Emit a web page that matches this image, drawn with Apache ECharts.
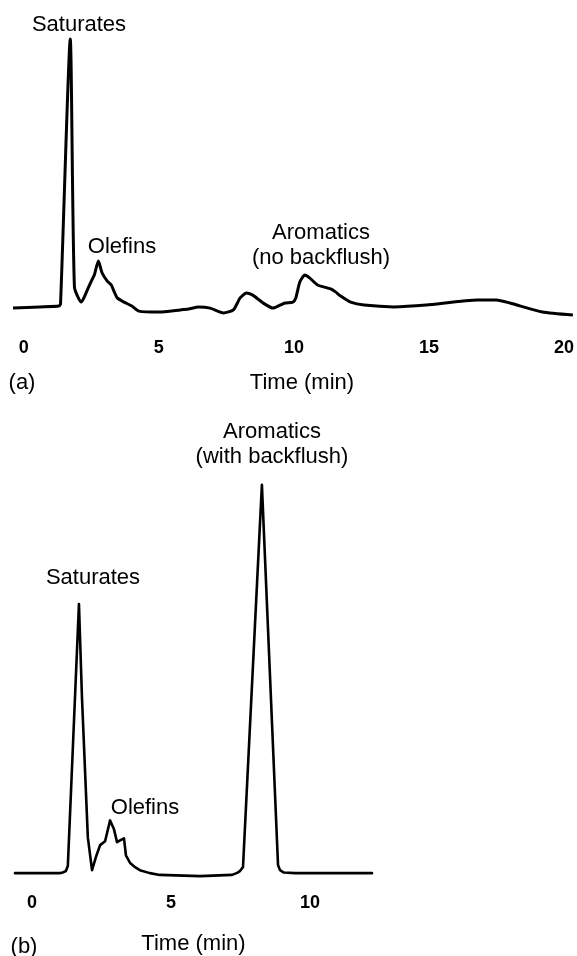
<!DOCTYPE html>
<html>
<head>
<meta charset="utf-8">
<script src="https://cdn.jsdelivr.net/npm/echarts@6/dist/echarts.min.js"></script>
<style>
html,body{margin:0;padding:0;background:#fff;}
#chart{width:577px;height:956px;}
</style>
</head>
<body>
<div id="chart"></div>
<script>
// Panel (a): no backflush — time (min) and detector signal (arbitrary units)
const timeA = [-0.40, 0.59, 1.30, 1.36, 1.72, 1.875, 2.13, 2.35, 2.50, 2.61, 2.76, 2.90, 3.09, 3.24, 3.35, 3.46, 3.71, 4.00, 4.26, 5.00, 5.80, 6.10, 6.47, 6.90, 7.39, 7.76, 8.01, 8.24, 8.53, 8.86, 9.23, 9.49, 9.67, 9.96, 10.07, 10.22, 10.40, 10.59, 10.88, 11.36, 11.54, 11.73, 12.10, 12.60, 13.70, 14.90, 16.80, 17.50, 18.00, 19.20, 20.33];
const signalA = [1.3, 1.7, 2.0, 2.7, 91, 8.3, 3.3, 7.3, 10.3, 12.3, 17, 13, 10.3, 9, 6.7, 4.7, 3.3, 2.0, 0.3, 0, 0.7, 1.0, 1.7, 1.3, -0.3, 0.7, 4.7, 6.3, 5.3, 3.0, 1.3, 2.3, 3.0, 3.3, 4.7, 10, 12.3, 11.3, 9, 7.7, 6.7, 5.3, 3.3, 2.3, 1.7, 2.3, 4.0, 4.0, 3.0, 0, -1];
const ticksA = [0, 5, 10, 15, 20];

// Panel (b): with backflush
const timeB = [-0.61, 1.00, 1.08, 1.22, 1.29, 1.69, 1.80, 2.01, 2.16, 2.30, 2.45, 2.63, 2.81, 2.95, 3.06, 3.17, 3.31, 3.38, 3.53, 3.71, 3.88, 4.24, 4.60, 6.04, 7.20, 7.38, 7.48, 7.59, 8.27, 8.85, 8.92, 9.06, 9.46, 12.23];
const signalB = [1.3, 1.3, 1.4, 2.0, 3.7, 91.7, 60, 13.3, 2.3, 6.7, 10.7, 12, 19, 16, 11.7, 12.3, 13, 7.3, 4.7, 3.3, 2.3, 1.3, 0.7, 0.3, 0.7, 1.4, 2.0, 3.3, 131.7, 4.0, 2.3, 1.5, 1.3, 1.3];
const ticksB = [0, 5, 10];

const pairs = (xs, ys) => xs.map((x, i) => [x, ys[i]]);

const FONT = "'Liberation Sans', Arial, Helvetica, sans-serif";
const txt = (text, x, y) => ({
  type: 'text', x: x, y: y,
  style: { text: text, font: '22px ' + FONT, fill: '#000', align: 'center', verticalAlign: 'middle' }
});

const chart = echarts.init(document.getElementById('chart'), null, { renderer: 'canvas' });
chart.setOption({
  animation: false,
  backgroundColor: '#fff',
  grid: [
    { left: 13, top: 12, width: 564, height: 315 },
    { left: 15, top: 475, width: 357, height: 405 }
  ],
  xAxis: [
    {
      gridIndex: 0, type: 'value', min: -0.40, max: 20.33,
      axisLine: { show: false }, axisTick: { show: false }, splitLine: { show: false },
      axisLabel: { customValues: ticksA, margin: 12, color: '#000', fontSize: 18, fontWeight: 'bold', fontFamily: FONT },
      name: 'Time (min)', nameLocation: 'middle', nameGap: 45,
      nameTextStyle: { fontSize: 22, color: '#000', fontFamily: FONT, padding: [0, 0, 0, 18] }
    },
    {
      gridIndex: 1, type: 'value', min: -0.61, max: 12.23,
      axisLine: { show: false }, axisTick: { show: false }, splitLine: { show: false },
      axisLabel: { customValues: ticksB, margin: 17, color: '#000', fontSize: 18, fontWeight: 'bold', fontFamily: FONT },
      name: 'Time (min)', nameLocation: 'middle', nameGap: 56,
      nameTextStyle: { fontSize: 22, color: '#000', fontFamily: FONT }
    }
  ],
  yAxis: [
    { gridIndex: 0, type: 'value', min: -5, max: 100, show: false },
    { gridIndex: 1, type: 'value', min: 0, max: 135, show: false }
  ],
  series: [
    {
      type: 'line', xAxisIndex: 0, yAxisIndex: 0, data: pairs(timeA, signalA),
      showSymbol: false, smooth: 0.2, clip: false,
      lineStyle: { color: '#000', width: 3 }
    },
    {
      type: 'line', xAxisIndex: 1, yAxisIndex: 1, data: pairs(timeB, signalB),
      showSymbol: false, smooth: false, clip: false,
      lineStyle: { color: '#000', width: 2.6, join: 'round', cap: 'round' }
    }
  ],
  graphic: [
    txt('Saturates', 79, 25),
    txt('Olefins', 122, 247),
    txt('Aromatics', 321, 233),
    txt('(no backflush)', 321, 258),
    txt('(a)', 22, 383),
    txt('Saturates', 93, 578),
    txt('Olefins', 145, 808),
    txt('Aromatics', 272, 432),
    txt('(with backflush)', 272, 457),
    txt('(b)', 24, 947)
  ]
});
</script>
</body>
</html>
